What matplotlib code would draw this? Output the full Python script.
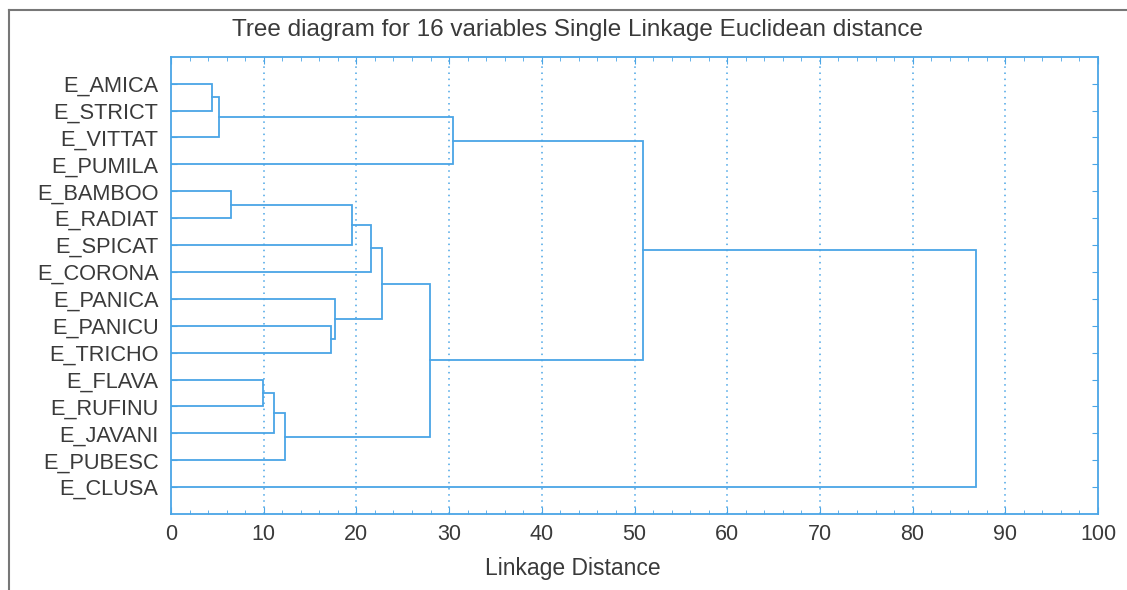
import matplotlib
matplotlib.use("Agg")
import matplotlib.pyplot as plt
from matplotlib.lines import Line2D

leaves = ["E_AMICA", "E_STRICT", "E_VITTAT", "E_PUMILA", "E_BAMBOO", "E_RADIAT",
          "E_SPICAT", "E_CORONA", "E_PANICA", "E_PANICU", "E_TRICHO", "E_FLAVA",
          "E_RUFINU", "E_JAVANI", "E_PUBESC", "E_CLUSA"]

# merges: (left node, right node, linkage distance); nodes are leaf names or merge ids "m<k>"
merges = [
    ("E_AMICA", "E_STRICT", 4.4),      # m0
    ("m0", "E_VITTAT", 5.2),           # m1
    ("m1", "E_PUMILA", 30.4),          # m2
    ("E_BAMBOO", "E_RADIAT", 6.5),     # m3
    ("m3", "E_SPICAT", 19.5),          # m4
    ("m4", "E_CORONA", 21.6),          # m5
    ("E_PANICU", "E_TRICHO", 17.3),    # m6
    ("E_PANICA", "m6", 17.7),          # m7
    ("m5", "m7", 22.8),                # m8
    ("E_FLAVA", "E_RUFINU", 9.95),     # m9
    ("m9", "E_JAVANI", 11.1),          # m10
    ("m10", "E_PUBESC", 12.3),         # m11
    ("m8", "m11", 27.9),               # m12
    ("m2", "m12", 50.9),               # m13
    ("m13", "E_CLUSA", 86.85),         # m14
]

x_ticks = [0, 10, 20, 30, 40, 50, 60, 70, 80, 90, 100]

title = "Tree diagram for 16 variables Single Linkage Euclidean distance"
xlabel = "Linkage Distance"

line_c = "#4aa5e6"
text_c = "#3a3a3a"

plt.rcParams['font.family'] = ['Liberation Sans', 'DejaVu Sans']

fig = plt.figure(figsize=(11.27, 5.90), dpi=100)
ax = fig.add_axes([0.1517, 0.1288, 0.8226, 0.7751])

pos = {name: (0.0, i + 1) for i, name in enumerate(leaves)}
for k, (a, b, h) in enumerate(merges):
    xa, ya = pos[a]
    xb, yb = pos[b]
    ax.plot([xa, h, h, xb], [ya, ya, yb, yb], color=line_c, lw=1.3, solid_joinstyle='miter')
    pos["m%d" % k] = (h, (ya + yb) / 2.0)

ax.set_xlim(0, 100)
ax.set_ylim(17, 0)
ax.set_xticks(x_ticks)
ax.set_xticks([v for v in range(0, 101, 2)], minor=True)
ax.set_yticks(range(1, 17))
ax.set_yticklabels(leaves)
for v in x_ticks[1:-1]:
    ax.axvline(v, color=line_c, lw=1.1, ls=(0, (1, 3)), zorder=0)

for s in ax.spines.values():
    s.set_color(line_c)
    s.set_linewidth(1.3)
ax.tick_params(axis='both', which='both', direction='in', color=line_c,
               top=True, right=True, labelcolor=text_c)
ax.tick_params(axis='x', which='major', length=5, labelsize=15.5, pad=7)
ax.tick_params(axis='x', which='minor', length=3)
ax.tick_params(axis='y', length=4, labelsize=15.7, pad=9)

fig.text(0.512, 0.949, title, ha='center', va='center', fontsize=17.5, color=text_c)
fig.text(0.508, 0.037, xlabel, ha='center', va='center', fontsize=16.5, color=text_c)

# outer frame lines (top and left)
fig.add_artist(Line2D([0.008, 1.0], [0.983, 0.983], transform=fig.transFigure,
                      color="#777777", lw=1.5))
fig.add_artist(Line2D([0.008, 0.008], [0.0, 0.983], transform=fig.transFigure,
                      color="#777777", lw=1.5))

fig.savefig("out.png", dpi=100, facecolor="white")
